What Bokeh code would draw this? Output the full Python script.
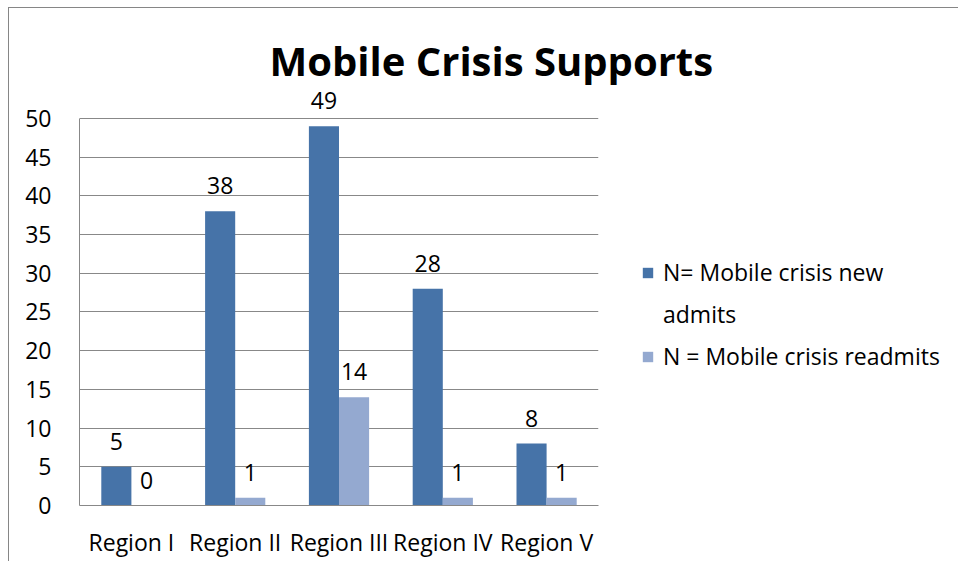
from bokeh.plotting import figure
from bokeh.models import (ColumnDataSource, FactorRange, Range1d, FixedTicker,
                          Legend, LegendItem, LabelSet, Title)
from bokeh.core.properties import value
from bokeh.transform import dodge
from bokeh.embed import file_html
from bokeh.resources import INLINE

regions = ["Region I", "Region II", "Region III", "Region IV", "Region V"]
new_admits = [5, 38, 49, 28, 8]
readmits = [0, 1, 14, 1, 1]
y_ticks = [0, 5, 10, 15, 20, 25, 30, 35, 40, 45, 50]
series_names = ["N= Mobile crisis new", "N = Mobile crisis readmits"]
series_name_cont = "admits"
title_text = "Mobile Crisis Supports"

FONT = "Open Sans"
FS = "23px"
DARK = "#4673A8"
LIGHT = "#94A9D0"
GRID = "#888888"

src = ColumnDataSource(dict(
    region=regions,
    new=new_admits,
    re=readmits,
    new_lbl=[str(v) for v in new_admits],
    re_lbl=[str(v) for v in readmits],
))

p = figure(x_range=FactorRange(*regions), y_range=Range1d(0, 54),
           width=942, height=553, output_backend="svg", toolbar_location=None,
           min_border_left=70, min_border_right=353, min_border_top=79,
           min_border_bottom=56)
p.frame_width = 519
p.frame_height = 418
p.margin = (7, 0, 0, 8)
p.styles = {"border-top": "1px solid #868686", "border-left": "1px solid #868686"}

r1 = p.vbar(x=dodge("region", -0.145, range=p.x_range), top="new", width=0.29,
            source=src, color=DARK, line_color=None)
r2 = p.vbar(x=dodge("region", 0.145, range=p.x_range), top="re", width=0.29,
            source=src, color=LIGHT, line_color=None)
# empty, invisible renderer: only carries the wrapped second line of the legend label
r_wrap = p.vbar(x=[], top=[], width=0.29, fill_alpha=0, line_alpha=0)

for xcol, ycol, tcol, dx in (("region", "new", "new_lbl", -0.145),
                             ("region", "re", "re_lbl", 0.145)):
    p.add_layout(LabelSet(x=dodge(xcol, dx, range=p.x_range), y=ycol, text=tcol,
                          source=src, text_align="center", text_baseline="bottom",
                          y_offset=17, text_font=value(FONT), text_font_size=value(FS),
                          text_color="black"))

# axes
p.yaxis.ticker = FixedTicker(ticks=y_ticks)
p.yaxis.bounds = (0, 50)
p.yaxis.major_tick_line_color = None
p.yaxis.major_tick_out = 0
p.yaxis.major_tick_in = 0
p.yaxis.minor_tick_line_color = None
p.yaxis.axis_line_color = GRID
p.yaxis.major_label_text_font = FONT
p.yaxis.major_label_text_font_size = FS
p.yaxis.major_label_text_color = "black"
p.yaxis.major_label_standoff = 28

p.xaxis.major_tick_line_color = None
p.xaxis.major_tick_out = 0
p.xaxis.major_tick_in = 0
p.xaxis.axis_line_color = GRID
p.xaxis.major_label_text_font = FONT
p.xaxis.major_label_text_font_size = FS
p.xaxis.major_label_text_color = "black"
p.xaxis.major_label_standoff = 20

p.xgrid.grid_line_color = None
p.ygrid.ticker = FixedTicker(ticks=y_ticks)
p.ygrid.grid_line_color = GRID
p.ygrid.grid_line_width = 1
p.outline_line_color = None

p.title = Title(text=title_text, align="left", offset=190, standoff=0,
                text_font=FONT, text_font_size="40px", text_font_style="bold",
                text_color="black")

legend = Legend(items=[LegendItem(label=series_names[0], renderers=[r1]),
                       LegendItem(label=series_name_cont, renderers=[r_wrap]),
                       LegendItem(label=series_names[1], renderers=[r2])],
                location=(43, 133), border_line_color=None, background_fill_alpha=0,
                label_text_font=FONT, label_text_font_size=FS,
                label_text_color="black", glyph_width=13, glyph_height=13,
                label_height=26, spacing=10, label_standoff=9, padding=0, margin=0)
p.add_layout(legend, "right")

open("out.html", "w").write(file_html(p, INLINE))
